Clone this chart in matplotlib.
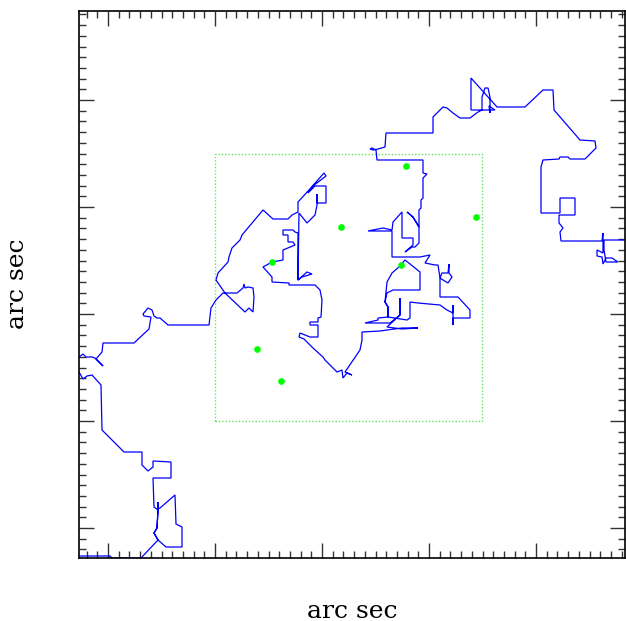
import matplotlib
matplotlib.use("Agg")
import matplotlib.pyplot as plt
from matplotlib.ticker import MultipleLocator
from matplotlib.patches import Rectangle

# offsets (arbitrary units, 107 units per major tick)
path_x = [-136,-105,-103,-74,-57,-49,-33,-33,-39,-40,-55,-57,-57,-57,-58,-61,-57,-61,-58,-57,
          -61,-62,-44,-44,-62,-62,-67,-73,-73,-91,-113,-114,-123,-128,-132,-136,-141,-136,-132,-129,
          -123,-120,-112,-119,-113,-112,-81,-66,-64,-71,-72,-67,-63,-61,-58,-55,-47,-6,-5,-4,
          1,8,22,28,29,30,33,38,39,38,34,30,10,1,3,13,14,17,25,27,
          48,58,73,77,83,83,94,109,111,98,93,100,111,111,102,102,102,100,92,84,
          83,92,97,87,83,83,80,78,68,68,73,73,78,80,68,68,57,48,57,57,
          74,74,100,105,107,106,103,103,95,95,103,103,95,85,84,89,98,108,110,118,
          122,127,128,132,137,130,145,147,147,165,172,187,203,187,172,185,185,185,175,150,
          163,163,173,173,170,172,178,205,205,190,185,177,172,170,173,173,192,195,195,203,
          225,232,238,238,238,238,255,255,243,225,225,228,233,237,234,234,233,227,225,223,
          220,210,215,205,177,177,153,168,177,178,187,187,198,198,190,197,200,204,204,198,
          192,198,204,204,206,206,208,208,212,208,208,162,161,157,155,158,163,170,171,218,
          218,228,232,238,245,255,263,267,267,270,273,275,275,274,280,256,256,282,310,328,
          338,339,352,365,380,381,370,355,353,345,344,328,326,326,345,345,360,360,344,344,
          348,345,346,387,388,388,382,382,387,388,391,397,403,391,389,389,417]
path_y = [-135,-135,-137,-137,-119,-126,-126,-106,-103,-74,-87,-88,-81,-89,-107,-112,-119,-112,-107,-89,
          -86,-57,-57,-41,-40,-46,-50,-44,-31,-31,-9,36,46,45,42,49,57,64,67,64,
          64,63,55,62,69,78,78,92,104,105,107,113,111,105,103,103,96,96,105,113,
          121,128,128,133,137,133,134,133,124,109,113,109,128,141,148,159,164,173,181,186,
          211,202,202,206,209,219,231,248,245,235,228,235,235,218,218,227,216,206,198,208,
          141,149,147,144,141,188,189,191,191,186,186,179,179,176,171,161,159,154,144,139,
          138,136,136,131,121,104,103,99,99,96,96,84,84,88,84,82,73,64,61,53,
          49,51,43,48,46,49,71,81,89,90,91,93,93,92,94,106,123,106,98,98,
          101,103,104,114,119,128,131,131,149,161,155,148,139,119,114,104,101,103,119,118,
          116,111,108,116,96,103,103,111,124,124,143,141,138,144,148,157,148,148,143,156,
          156,158,166,164,164,190,190,193,191,199,209,183,183,176,169,174,174,178,194,204,
          209,204,194,211,213,221,223,243,247,248,261,261,271,273,272,271,272,274,288,288,
          304,314,313,308,303,303,309,311,324,333,333,324,308,315,311,311,343,314,314,331,
          331,311,296,281,280,273,262,262,264,264,262,261,254,208,208,223,223,206,206,198,
          193,189,180,180,188,168,171,165,164,157,163,163,159,159,171,181,181]

star_x = [191, 261, 126, 57, 186, 42, 66]
star_y = [255, 204, 194, 159, 156, 72, 40]

field_x0, field_y0, field_size = 0, 0, 267
xlim = (-136, 410)
ylim = (-137, 410)
major_step = 107
minor_step = 10.7
xlabel = "arc sec"
ylabel = "arc sec"

fig = plt.figure(figsize=(6.26, 6.21), dpi=100)
ax = fig.add_axes([79/626, (621-558)/621, (625-79)/626, (558-11)/621])

ax.plot(path_x, path_y, color="#0000ff", lw=0.9, solid_joinstyle="miter")
ax.add_patch(Rectangle((field_x0, field_y0), field_size, field_size, fill=False,
                       edgecolor="#5fe85f", lw=1.0, linestyle=(0, (1.0, 1.4))))
ax.plot(star_x, star_y, "o", color="#00ff00", ms=4.8, mec="none")

ax.set_xlim(*xlim)
ax.set_ylim(*ylim)
ax.xaxis.set_major_locator(MultipleLocator(major_step))
ax.yaxis.set_major_locator(MultipleLocator(major_step))
ax.xaxis.set_minor_locator(MultipleLocator(minor_step))
ax.yaxis.set_minor_locator(MultipleLocator(minor_step))
ax.tick_params(which="both", direction="in", top=True, right=True,
               labelbottom=False, labelleft=False, color="#333333", width=1.0)
ax.tick_params(which="major", length=11)
ax.tick_params(which="minor", length=5)
for s in ax.spines.values():
    s.set_linewidth(1.2)

fig.text(352/626, 1 - 611/621, xlabel, family="DejaVu Serif", fontsize=18,
         ha="center", va="center")
fig.text(18/626, 1 - 284/621, ylabel, family="DejaVu Serif", fontsize=18,
         ha="center", va="center", rotation=90)

fig.savefig("out.png", dpi=100)
